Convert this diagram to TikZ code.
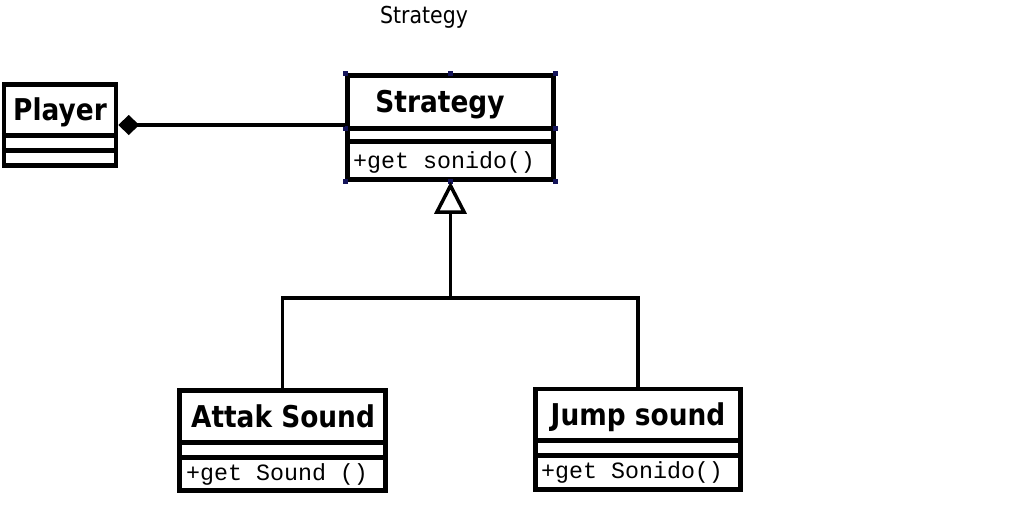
\documentclass[tikz,border=0pt]{standalone}
\usepackage{fontspec}
\usetikzlibrary{arrows.meta,calc}
\newfontfamily\tahoma[FakeStretch=0.88]{DejaVu Sans}
\newfontfamily\courier{Liberation Mono}
\definecolor{Handle}{HTML}{14145A}
\tikzset{classbox/.style={draw,line width=4.5pt,fill=white,inner sep=0pt},rule/.style={line width=4.5pt},cname/.style={anchor=base,inner sep=0pt,font=\tahoma\bfseries\fontsize{30}{36}\selectfont},mtext/.style={anchor=base west,inner sep=0pt,font=\courier\fontsize{23.3}{28}\selectfont},title/.style={anchor=base,inner sep=0pt,font=\tahoma\fontsize{23.3}{28}\selectfont},link/.style={line width=3.5pt},comp/.style={link,{Diamond[length=21pt,width=20pt]}-},gen/.style={link,-{Triangle[open,length=32pt,width=32pt]}}}

\begin{document}
\begin{tikzpicture}[x=1pt,y=-1pt]
\useasboundingbox (0,0) rectangle (1012,512);
\node[title] (head) at (424,23) {Strategy};
% classes
\node[classbox,minimum width=112pt,minimum height=81pt] (player) at (60,125) {};
\foreach \y in {135.5,150.5}{\draw[rule] (player.west |- 0,\y) -- (player.east |- 0,\y);}
\node[cname] (playername) at (60,120) {Player};
\node[classbox,minimum width=206pt,minimum height=104pt] (strategy) at (450.5,127.5) {};
\foreach \y in {128.5,141.5}{\draw[rule] (strategy.west |- 0,\y) -- (strategy.east |- 0,\y);}
\node[cname] (strategyname) at (440,112) {Strategy};
\node[mtext] (strategyop) at (353,168) {+get sonido()};
\node[classbox,minimum width=206pt,minimum height=100pt] (attak) at (282.5,440.5) {};
\foreach \y in {442.5,457.5}{\draw[rule] (attak.west |- 0,\y) -- (attak.east |- 0,\y);}
\node[cname] (attakname) at (283,427) {Attak Sound};
\node[mtext] (attakop) at (186,480) {+get Sound ()};
\node[classbox,minimum width=205pt,minimum height=100.5pt] (jump) at (638,439.25) {};
\foreach \y in {440.5,455.5}{\draw[rule] (jump.west |- 0,\y) -- (jump.east |- 0,\y);}
\node[cname] (jumpname) at (638,425) {Jump sound};
\node[mtext] (jumpop) at (541,478) {+get Sonido()};
% selection handles
\foreach \p in {north west,north,north east,south west,south,south east}{\fill[Handle] ([shift={(-2.5,-2.5)}]strategy.\p) rectangle +(5,5);}
\foreach \p in {west,east}{\fill[Handle] ([shift={(-2.5,-1.5)}]strategy.\p) rectangle +(5,5);}
% connectors
\draw[comp] (player.east) -- (player.east -| strategy.west);
\coordinate (fork) at (450.5,298);
\draw[link] (attak.north) |- (fork) -| (jump.north);
\draw[gen] (fork) -- (strategy.south);
\end{tikzpicture}
\end{document}
